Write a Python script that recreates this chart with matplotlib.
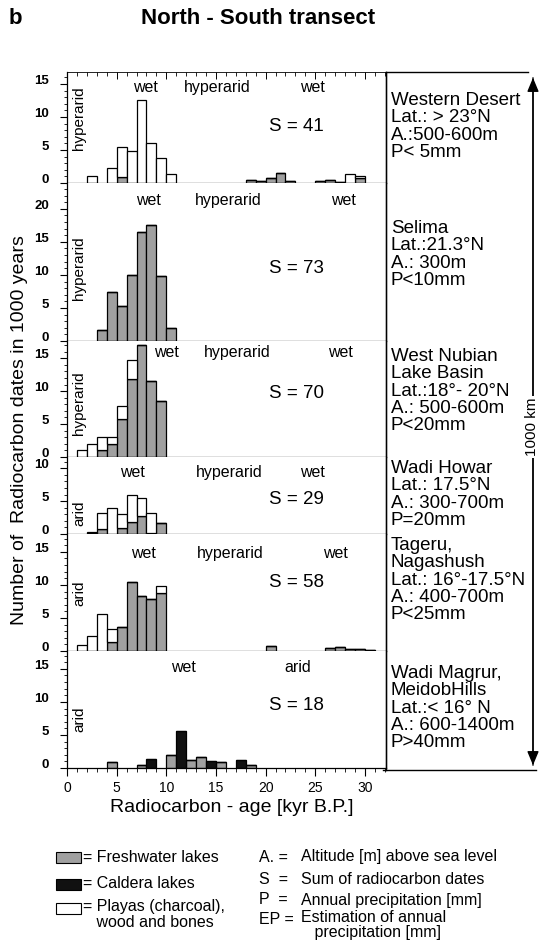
import numpy as np
import matplotlib
matplotlib.use('Agg')
import matplotlib.pyplot as plt
from matplotlib.lines import Line2D
from matplotlib.patches import Rectangle, FancyArrowPatch
from matplotlib.ticker import MultipleLocator

plt.rcParams['font.family'] = ['Liberation Sans', 'DejaVu Sans']

# ---------------------------------------------------------------------------
# Data: radiocarbon dates per 1 kyr bin (bin left edge in kyr B.P.)
# ---------------------------------------------------------------------------
WD_AGE = [2, 4, 5, 6, 7, 8, 9, 10, 18, 19, 20, 21, 22, 25, 26, 27, 28, 29]
WD_FRESH = [0, 0, 0.9, 0, 0, 0, 0, 0, 0.5, 0.3, 0.8, 1.5, 0.3, 0.25, 0.5, 0.2, 0, 0.7]
WD_CALDERA = [0] * 18
WD_PLAYA = [1.0, 2.3, 4.6, 4.9, 12.5, 6.1, 3.8, 1.3, 0, 0, 0, 0, 0, 0, 0, 0, 1.3, 0.4]

SE_AGE = [3, 4, 5, 6, 7, 8, 9, 10]
SE_FRESH = [1.6, 7.4, 5.3, 10.0, 16.5, 17.6, 9.8, 2.0]
SE_CALDERA = [0] * 8
SE_PLAYA = [0] * 8

WN_AGE = [1, 2, 3, 4, 5, 6, 7, 8, 9]
WN_FRESH = [0, 0, 1.0, 1.9, 5.7, 11.9, 17.0, 11.5, 8.5]
WN_CALDERA = [0] * 9
WN_PLAYA = [1.1, 1.9, 2.0, 1.1, 2.0, 2.8, 0, 0, 0]

WH_AGE = [2, 3, 4, 5, 6, 7, 8, 9]
WH_FRESH = [0.2, 0.7, 0, 0.9, 1.8, 2.7, 0.1, 1.6]
WH_CALDERA = [0] * 8
WH_PLAYA = [0.15, 2.5, 3.9, 2.1, 4.1, 2.7, 3.1, 0]

TN_AGE = [1, 2, 3, 4, 5, 6, 7, 8, 9, 20, 26, 27, 28, 29, 30]
TN_FRESH = [0, 0, 0, 1.3, 3.7, 10.5, 8.3, 7.9, 8.8, 0.7, 0.5, 0.6, 0.35, 0.3, 0.15]
TN_CALDERA = [0] * 15
TN_PLAYA = [0.9, 2.3, 5.6, 2.1, 0, 0, 0, 0, 1.1, 0, 0, 0, 0, 0, 0]

WM_AGE = [4, 7, 8, 10, 11, 12, 13, 14, 15, 17, 18]
WM_FRESH = [0.9, 0.4, 0, 2.0, 0, 1.2, 1.6, 0, 0.9, 0, 0.5]
WM_CALDERA = [0, 0, 1.4, 0, 5.6, 0, 0, 1.0, 0, 1.2, 0]
WM_PLAYA = [0] * 11

SUMS = [41, 73, 70, 29, 58, 18]
SIDE_LABELS = ['hyperarid', 'hyperarid', 'hyperarid', 'arid', 'arid', 'arid']
PHASE_LABELS = [['wet', 'hyperarid', 'wet'],
                ['wet', 'hyperarid', 'wet'],
                ['wet', 'hyperarid', 'wet'],
                ['wet', 'hyperarid', 'wet'],
                ['wet', 'hyperarid', 'wet'],
                ['wet', 'arid']]
Y_TICKS = [[0, 5, 10, 15], [0, 5, 10, 15, 20], [0, 5, 10, 15],
           [0, 5, 10], [0, 5, 10, 15], [0, 5, 10, 15]]

SITE_INFO = ['Western Desert\nLat.: > 23°N\nA.:500-600m\nP< 5mm',
             'Selima\nLat.:21.3°N\nA.: 300m\nP<10mm',
             'West Nubian\nLake Basin\nLat.:18°- 20°N\nA.: 500-600m\nP<20mm',
             'Wadi Howar\nLat.: 17.5°N\nA.: 300-700m\nP=20mm',
             'Tageru,\nNagashush\nLat.: 16°-17.5°N\nA.: 400-700m\nP<25mm',
             'Wadi Magrur,\nMeidobHills\nLat.:< 16° N\nA.: 600-1400m\nP>40mm']

LEGEND_LABELS = ['= Freshwater lakes', '= Caldera lakes', '= Playas (charcoal),\n   wood and bones']
ABBREV_KEYS = ['A. =', 'S  =', 'P  =', 'EP =']
ABBREV_TEXTS = ['Altitude [m] above sea level', 'Sum of radiocarbon dates',
                'Annual precipitation [mm]', 'Estimation of annual\n   precipitation [mm]']

PANELS = [(WD_AGE, WD_FRESH, WD_CALDERA, WD_PLAYA),
          (SE_AGE, SE_FRESH, SE_CALDERA, SE_PLAYA),
          (WN_AGE, WN_FRESH, WN_CALDERA, WN_PLAYA),
          (WH_AGE, WH_FRESH, WH_CALDERA, WH_PLAYA),
          (TN_AGE, TN_FRESH, TN_CALDERA, TN_PLAYA),
          (WM_AGE, WM_FRESH, WM_CALDERA, WM_PLAYA)]

COLOR_FRESH = '#a0a0a0'
COLOR_CALDERA = '#111111'
COLOR_PLAYA = 'white'

# ---------------------------------------------------------------------------
# Layout (pixel positions on a 540 x 948 canvas)
# ---------------------------------------------------------------------------
W, H = 540, 948
X_LEFT, X_RIGHT = 67, 386
PANEL_PX = [(72, 183), (183, 341), (341, 457), (457, 534), (534, 651), (651, 768)]
Y_TOPS = [16.8, 23.9, 17.6, 11.7, 17.7, 17.7]
# text positions inside each panel (data coords)
PHASE_X = [[7.9, 15.1, 24.7], [8.2, 16.2, 27.8], [10.0, 17.1, 27.5],
           [6.6, 16.3, 24.7], [7.7, 16.4, 27.0], [11.7, 23.2]]
PHASE_Y = [14.5, 21.2, 15.8, 9.4, 14.7, 15.2]
SIDE_Y = [9.8, 11.0, 8.2, 3.2, 8.8, 7.3]
S_Y = [8.6, 11.0, 9.7, 5.3, 10.3, 9.5]
INFO_TOP = [92, 220, 348, 460, 537, 665]


def fx(px):
    return px / W


def fy(py):
    return 1 - py / H


fig = plt.figure(figsize=(5.4, 9.48), dpi=100)

for i, (age, fresh, caldera, playa) in enumerate(PANELS):
    top, bot = PANEL_PX[i]
    ax = fig.add_axes([fx(X_LEFT), fy(bot), (X_RIGHT - X_LEFT) / W, (bot - top) / H])
    age = np.array(age, dtype=float)
    fresh = np.array(fresh)
    caldera = np.array(caldera)
    playa = np.array(playa)

    ax.bar(age, fresh, width=1, align='edge', color=COLOR_FRESH, edgecolor='k', linewidth=0.9)
    ax.bar(age, caldera, width=1, align='edge', bottom=fresh, color=COLOR_CALDERA,
           edgecolor='k', linewidth=0.9)
    ax.bar(age, playa, width=1, align='edge', bottom=fresh + caldera, color=COLOR_PLAYA,
           edgecolor='k', linewidth=0.9)

    ax.set_xlim(0, 32.12)
    ax.set_ylim(0, Y_TOPS[i])
    ax.set_yticks(Y_TICKS[i])
    ax.yaxis.set_minor_locator(MultipleLocator(1))
    ax.tick_params(axis='y', which='major', direction='out', length=5, width=0.8,
                   labelsize=9.5, pad=8)
    ax.tick_params(axis='y', which='minor', direction='out', length=2.5, width=0.6)
    for lab in ax.get_yticklabels():
        lab.set_verticalalignment('baseline')
        lab.set_fontweight('bold')

    for sp in ['left', 'bottom', 'right']:
        ax.spines[sp].set_linewidth(0.9)
    ax.spines['top'].set_visible(i == 0)
    ax.spines['top'].set_linewidth(0.6)

    if i == 0:
        ax.xaxis.set_ticks_position('top')
        ax.set_xticks(np.arange(0, 33, 5))
        ax.xaxis.set_minor_locator(MultipleLocator(1))
        ax.tick_params(axis='x', which='major', direction='in', length=5, width=0.7,
                       labeltop=False, labelbottom=False)
        ax.tick_params(axis='x', which='minor', direction='in', length=3, width=0.6)
    elif i == len(PANELS) - 1:
        ax.set_xticks(np.arange(0, 31, 5))
        ax.xaxis.set_minor_locator(MultipleLocator(1))
        ax.tick_params(axis='x', which='major', direction='out', length=6, width=0.8,
                       labelsize=10, pad=3)
        ax.tick_params(axis='x', which='minor', direction='out', length=3, width=0.6)
    else:
        ax.set_xticks([])

    for label, x in zip(PHASE_LABELS[i], PHASE_X[i]):
        ax.text(x, PHASE_Y[i], label, ha='center', va='center', fontsize=11.5)
    ax.text(1.2, SIDE_Y[i], SIDE_LABELS[i], rotation=90, ha='center', va='center', fontsize=11)
    ax.text(23.1, S_Y[i], f'S = {SUMS[i]}', ha='center', va='center', fontsize=13.5)

    fig.text(fx(391), fy(INFO_TOP[i]), SITE_INFO[i], ha='left', va='top', fontsize=13.5,
             linespacing=1.02)

# right-hand box and transect arrow
fig.add_artist(Line2D([fx(386), fx(528)], [fy(72), fy(72)], color='k', lw=1))
fig.add_artist(Line2D([fx(383), fx(536)], [fy(770), fy(770)], color='k', lw=1))
fig.add_artist(Line2D([fx(386), fx(386)], [fy(72), fy(770)], color='k', lw=1))
fig.add_artist(FancyArrowPatch((fx(533), fy(768)), (fx(533), fy(75)),
                               arrowstyle='-|>,head_length=0.6,head_width=0.25',
                               mutation_scale=14, color='k', lw=1,
                               transform=fig.transFigure))
fig.add_artist(FancyArrowPatch((fx(533), fy(75)), (fx(533), fy(768)),
                               arrowstyle='-|>,head_length=0.6,head_width=0.25',
                               mutation_scale=14, color='k', lw=1,
                               transform=fig.transFigure))
fig.text(fx(532), fy(427), '1000 km', rotation=90, ha='center', va='center', fontsize=11,
         bbox=dict(facecolor='white', edgecolor='none', pad=1))

# titles and axis labels
fig.text(fx(15), fy(18), 'b', ha='center', va='center', fontsize=16, fontweight='bold')
fig.text(fx(258), fy(18), 'North - South transect', ha='center', va='center',
         fontsize=16, fontweight='bold')
fig.text(fx(20), fy(430), 'Number of  Radiocarbon dates in 1000 years', rotation=90,
         ha='center', va='center', fontsize=14)
fig.text(fx(232), fy(808), 'Radiocarbon - age [kyr B.P.]', ha='center', va='center', fontsize=14)

# legend
swatch_colors = [COLOR_FRESH, COLOR_CALDERA, COLOR_PLAYA]
swatch_y = [857, 884, 908]
for color, label, y in zip(swatch_colors, LEGEND_LABELS, swatch_y):
    fig.add_artist(Rectangle((fx(56), fy(y + 5.5)), 25 / W, 11 / H, facecolor=color,
                             edgecolor='k', lw=0.8, transform=fig.transFigure))
    if '\n' in label:
        fig.text(fx(83), fy(y - 9), label, ha='left', va='top', fontsize=11.5, linespacing=1.05)
    else:
        fig.text(fx(83), fy(y), label, ha='left', va='center', fontsize=11.5)

abbrev_y = [857, 879, 900, 919]
for key, txt, y in zip(ABBREV_KEYS, ABBREV_TEXTS, abbrev_y):
    fig.text(fx(259), fy(y), key, ha='left', va='center', fontsize=11.5)
    if '\n' in txt:
        fig.text(fx(301), fy(y - 9), txt, ha='left', va='top', fontsize=11.5, linespacing=1.0)
    else:
        fig.text(fx(301), fy(y), txt, ha='left', va='center', fontsize=11.5)

fig.savefig('out.png', dpi=100)
